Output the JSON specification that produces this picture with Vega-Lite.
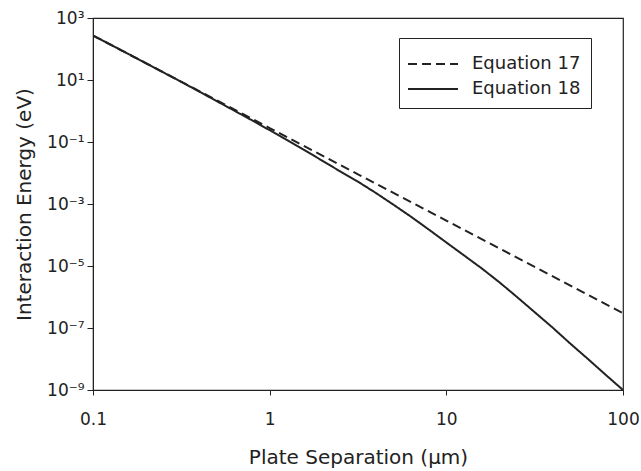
{
  "$schema": "https://vega.github.io/schema/vega-lite/v6.json",
  "width": 530,
  "height": 372,
  "autosize": {"type": "none"},
  "padding": {"left": 93, "top": 18, "right": 18, "bottom": 81},
  "background": "white",
  "config": {
    "view": {"stroke": "#222", "strokeWidth": 1.2},
    "font": "DejaVu Sans",
    "axis": {
      "grid": false,
      "domainColor": "#222",
      "tickColor": "#222",
      "labelColor": "#222",
      "titleColor": "#222",
      "labelFont": "DejaVu Sans",
      "titleFont": "DejaVu Sans",
      "titleFontWeight": "normal",
      "labelFontSize": 17,
      "titleFontSize": 20
    },
    "legend": {"labelFont": "DejaVu Sans"}
  },
  "data": {
    "values": [
      {"series": "Equation 17", "d": 0.1, "E": 272.3},
      {"series": "Equation 17", "d": 0.3162, "E": 8.76},
      {"series": "Equation 17", "d": 1, "E": 0.282},
      {"series": "Equation 17", "d": 3.162, "E": 0.00907},
      {"series": "Equation 17", "d": 10, "E": 0.000292},
      {"series": "Equation 17", "d": 31.62, "E": 9.39e-6},
      {"series": "Equation 17", "d": 100, "E": 3.02e-7},
      {"series": "Equation 18", "d": 0.1, "E": 272.3},
      {"series": "Equation 18", "d": 0.1259, "E": 138.0},
      {"series": "Equation 18", "d": 0.1585, "E": 69.2},
      {"series": "Equation 18", "d": 0.1995, "E": 34.7},
      {"series": "Equation 18", "d": 0.2512, "E": 17.4},
      {"series": "Equation 18", "d": 0.3162, "E": 8.71},
      {"series": "Equation 18", "d": 0.3981, "E": 4.27},
      {"series": "Equation 18", "d": 0.5012, "E": 2.09},
      {"series": "Equation 18", "d": 0.631, "E": 1.023},
      {"series": "Equation 18", "d": 0.7943, "E": 0.501},
      {"series": "Equation 18", "d": 1, "E": 0.24},
      {"series": "Equation 18", "d": 1.259, "E": 0.115},
      {"series": "Equation 18", "d": 1.585, "E": 0.0537},
      {"series": "Equation 18", "d": 1.995, "E": 0.0245},
      {"series": "Equation 18", "d": 2.512, "E": 0.0112},
      {"series": "Equation 18", "d": 3.162, "E": 0.00525},
      {"series": "Equation 18", "d": 3.981, "E": 0.00229},
      {"series": "Equation 18", "d": 5.012, "E": 0.000955},
      {"series": "Equation 18", "d": 6.31, "E": 0.000389},
      {"series": "Equation 18", "d": 7.943, "E": 0.000151},
      {"series": "Equation 18", "d": 10, "E": 5.75e-5},
      {"series": "Equation 18", "d": 12.59, "E": 2.2e-5},
      {"series": "Equation 18", "d": 15.85, "E": 8.4e-6},
      {"series": "Equation 18", "d": 19.95, "E": 3.0e-6},
      {"series": "Equation 18", "d": 25.12, "E": 1.0e-6},
      {"series": "Equation 18", "d": 31.62, "E": 3.24e-7},
      {"series": "Equation 18", "d": 39.81, "E": 1.05e-7},
      {"series": "Equation 18", "d": 50.12, "E": 3.2e-8},
      {"series": "Equation 18", "d": 63.1, "E": 1.02e-8},
      {"series": "Equation 18", "d": 79.43, "E": 3.16e-9},
      {"series": "Equation 18", "d": 100, "E": 1.0e-9}
    ]
  },
  "mark": {"type": "line", "color": "#222", "strokeWidth": 2, "clip": true},
  "encoding": {
    "x": {
      "field": "d",
      "type": "quantitative",
      "scale": {"type": "log", "domain": [0.1, 100], "nice": false},
      "axis": {
        "title": "Plate Separation (μm)",
        "values": [0.1, 1, 10, 100],
        "labelExpr": "datum.value < 1 ? '0.1' : format(datum.value, 'd')",
        "tickSize": 5,
        "labelPadding": 16,
        "labelFlush": false,
        "titleBaseline": "alphabetic",
        "titleY": 73
      }
    },
    "y": {
      "field": "E",
      "type": "quantitative",
      "scale": {"type": "log", "domain": [1e-9, 1000], "nice": false},
      "axis": {
        "title": "Interaction Energy (eV)",
        "values": [1000, 10, 0.1, 0.001, 1e-5, 1e-7, 1e-9],
        "labelExpr": "'10' + (round(log(datum.value)/LN10) < 0 ? '⁻' : '') + ['⁰','¹','²','³','⁴','⁵','⁶','⁷','⁸','⁹'][abs(round(log(datum.value)/LN10))]",
        "tickSize": 6,
        "labelPadding": 3,
        "labelFlush": false,
        "titleBaseline": "alphabetic",
        "titleX": -63
      }
    },
    "strokeDash": {
      "field": "series",
      "type": "nominal",
      "scale": {"domain": ["Equation 17", "Equation 18"], "range": [[9, 5], [1, 0]]},
      "legend": {
        "title": null,
        "orient": "none",
        "legendX": 306,
        "legendY": 20,
        "symbolType": "M-1.667,0H1.667",
        "symbolSize": 900,
        "symbolStrokeWidth": 2,
        "symbolStrokeColor": "#222",
        "symbolFillColor": "transparent",
        "symbolOffset": 8,
        "labelFontSize": 18,
        "labelColor": "#222",
        "labelOffset": 23,
        "padding": 10,
        "rowPadding": 0,
        "strokeColor": "#222",
        "fillColor": "white"
      }
    }
  }
}
